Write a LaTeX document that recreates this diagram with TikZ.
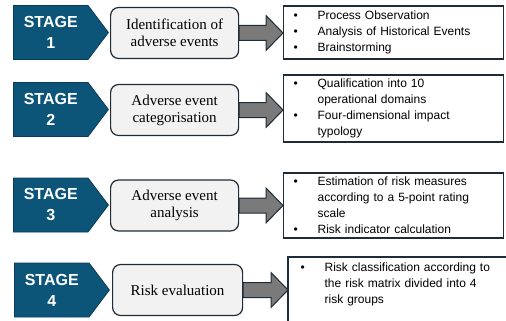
\documentclass[tikz,border=0pt]{standalone}
\usepackage{fontspec}
\setmainfont{Liberation Serif}
\setsansfont{Liberation Sans}
\usetikzlibrary{shapes.symbols,calc,positioning}
\definecolor{stageblue}{RGB}{12,84,120}
\definecolor{stageedge}{RGB}{10,60,88}
\definecolor{boxgrey}{RGB}{242,242,242}
\definecolor{boxedge}{RGB}{30,44,56}
\definecolor{arrowgrey}{RGB}{122,122,122}
\tikzset{
  stage/.style={signal, signal to=east, signal pointer angle=106, fill=stageblue,
    draw=stageedge, line width=0.8pt, minimum width=95pt, minimum height=54pt,
    anchor=west, text=white, align=center, inner sep=0pt,
    font=\sffamily\bfseries\fontsize{16}{21}\selectfont},
  stepbox/.style={rectangle, rounded corners=8pt, fill=boxgrey, draw=boxedge,
    line width=1.2pt, minimum width=128pt, minimum height=51pt, anchor=west,
    align=center, font=\fontsize{15}{17}\selectfont},
  listbox/.style={rectangle, draw=boxedge, line width=1.2pt, anchor=west,
    text width=200pt, align=left, inner xsep=10pt,
    font=\sffamily\fontsize{12}{16}\selectfont},
  fatarrow/.style={fill=arrowgrey, draw=boxedge, line width=1pt, line join=miter}
}
\newcommand{\bul}{\makebox[24pt][l]{\textbullet}}
\newcommand{\ind}{\makebox[24pt]{}}
% thick grey arrow from a step box to its list box
\newcommand{\linkarrow}[2]{%
  \draw[fatarrow] let \p1=(#1.east), \p2=(#2.west) in
    (\x1,\y1+7.5pt) -- (\x2-17pt,\y1+7.5pt) -- (\x2-17pt,\y1+17.5pt) -- (\x2,\y1)
    -- (\x2-17pt,\y1-17.5pt) -- (\x2-17pt,\y1-7.5pt) -- (\x1,\y1-7.5pt) -- cycle;}

\begin{document}
\begin{tikzpicture}[x=1pt,y=-1pt]
  \clip (0,0) rectangle (506,321);% fixes the page
  % stage tags
  \node[stage] (stage1) at (13,32.5) {STAGE\\1};
  \node[stage] (stage2) at (13,109.5) {STAGE\\2};
  \node[stage] (stage3) at (13,205) {STAGE\\3};
  \node[stage] (stage4) at (14,290) {STAGE\\4};
  % step boxes
  \node[stepbox] (step1) at (110,33) {Identification of\\adverse events};
  \node[stepbox] (step2) at (110,110) {Adverse event\\categorisation};
  \node[stepbox] (step3) at (110,205.5) {Adverse event\\analysis};
  \node[stepbox, minimum width=130pt] (step4) at (112,290) {Risk evaluation};
  % lists of activities
  \node[listbox, minimum height=53pt] (list1) at (283,32.5)
    {\bul Process Observation\\\bul Analysis of Historical Events\\\bul Brainstorming};
  \node[listbox, minimum height=67pt] (list2) at (283,108.5)
    {\bul Qualification into 10\\\ind operational domains\\\bul Four-dimensional impact\\\ind typology};
  \node[listbox, minimum height=65pt] (list3) at (283,205.5)
    {\bul Estimation of risk measures\\\ind according to a 5-point rating\\\ind scale\\\bul Risk indicator calculation};
  \node[listbox, draw=none, anchor=north west, inner xsep=12pt, inner ysep=5pt] (list4) at (288,257)
    {\bul Risk classification according to\\\ind the risk matrix divided into 4\\\ind risk groups};
  \draw[boxedge, line width=1.2pt] (list4.north west) rectangle ++(240,90);% runs off the page
  % arrows
  \linkarrow{step1}{list1}
  \linkarrow{step2}{list2}
  \linkarrow{step3}{list3}
  \linkarrow{step4}{list4}
\end{tikzpicture}
\end{document}
